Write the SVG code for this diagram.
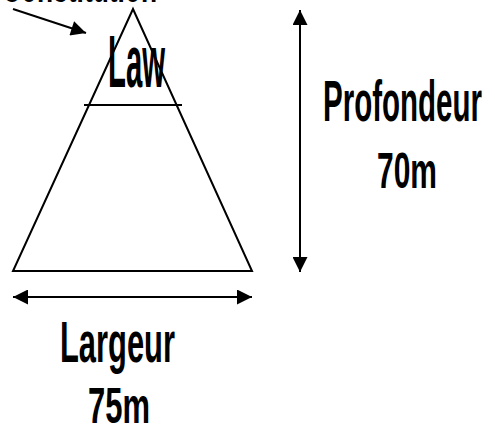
<svg xmlns="http://www.w3.org/2000/svg" width="495" height="427" viewBox="0 0 495 427">
<style>
.t{font-family:"Liberation Sans",Arial,sans-serif;font-weight:bold;fill:#000}
.ln{stroke:#000;stroke-width:2;fill:none}
</style>
<defs>
<marker id="ah" viewBox="0 0 10 10" refX="10" refY="5" markerWidth="8" markerHeight="7.5" markerUnits="strokeWidth" orient="auto-start-reverse">
<path d="M0,0 L10,5 L0,10 Z" fill="#000"/>
</marker>
</defs>
<rect width="495" height="427" fill="#fff"/>
<g id="pyramid">
<path class="ln" d="M133,9 L13,271 L252,271 Z" stroke-linejoin="miter"/>
<line class="ln" x1="84" y1="105" x2="182" y2="105"/>
<text class="t" x="108" y="87" font-size="75" textLength="57" lengthAdjust="spacingAndGlyphs">Law</text>
</g>
<g id="top-label">
<text class="t" x="2" y="2" font-size="40" textLength="155" lengthAdjust="spacingAndGlyphs">Constitution</text>
</g>
<g id="connectors">
<line class="ln" x1="13" y1="9" x2="86" y2="33" marker-end="url(#ah)"/>
<line class="ln" x1="300" y1="10" x2="300" y2="272" marker-start="url(#ah)" marker-end="url(#ah)"/>
<line class="ln" x1="13" y1="297" x2="252" y2="297" marker-start="url(#ah)" marker-end="url(#ah)"/>
</g>
<g id="depth-label">
<text class="t" x="323" y="121" font-size="57" textLength="159" lengthAdjust="spacingAndGlyphs">Profondeur</text>
<text class="t" x="377" y="188" font-size="50" textLength="60" lengthAdjust="spacingAndGlyphs">70m</text>
</g>
<g id="width-label">
<text class="t" x="60" y="362" font-size="58" textLength="115" lengthAdjust="spacingAndGlyphs">Largeur</text>
<text class="t" x="88" y="423" font-size="50" textLength="62" lengthAdjust="spacingAndGlyphs">75m</text>
</g>
</svg>
